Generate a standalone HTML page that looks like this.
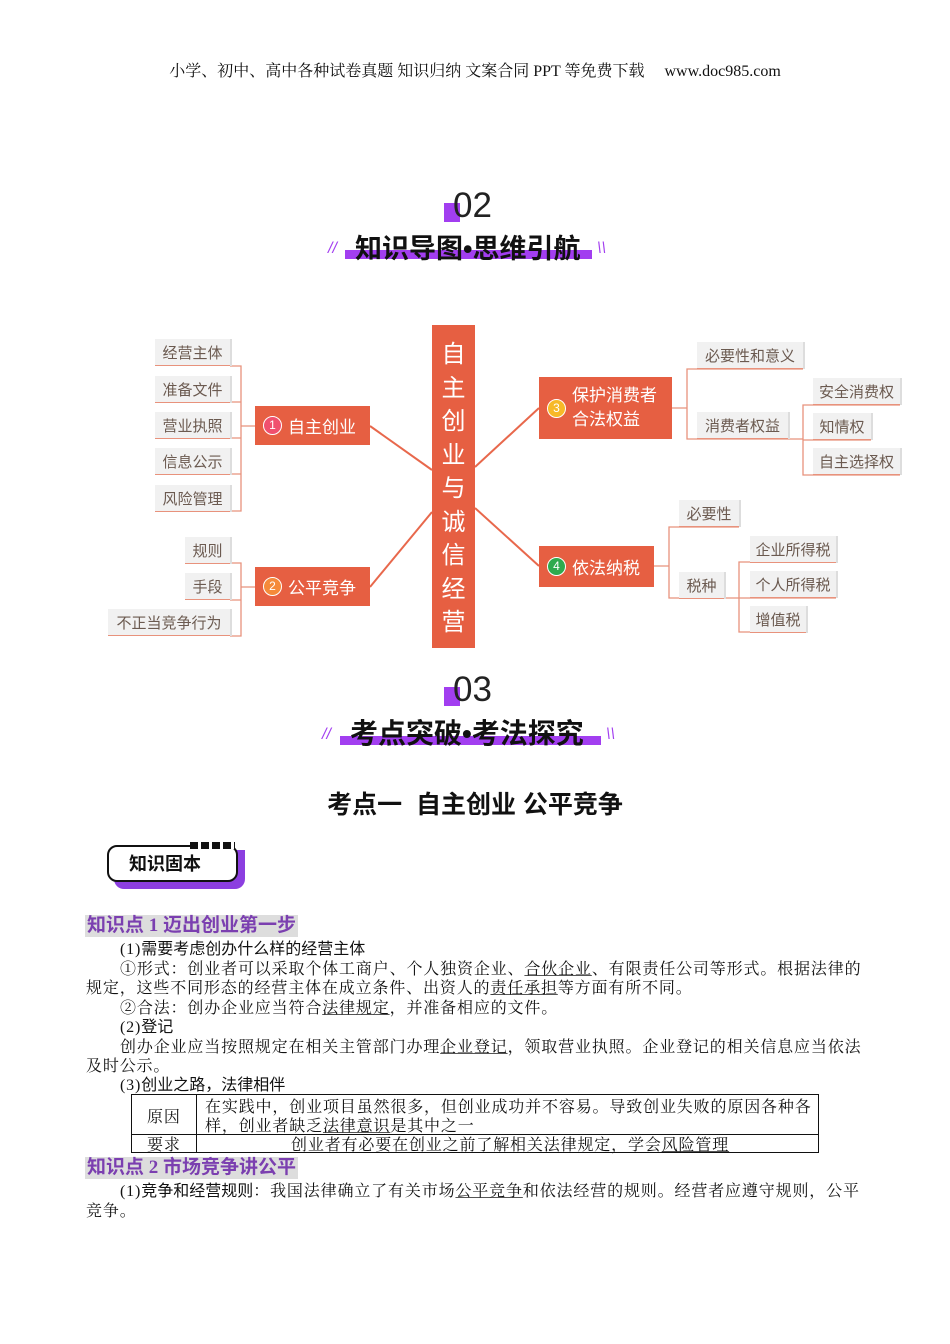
<!DOCTYPE html>
<html><head><meta charset="utf-8">
<style>
body{margin:0;background:#fff;}
#p{position:relative;width:950px;height:1344px;overflow:hidden;font-family:"Liberation Serif","Noto Serif CJK SC",serif;color:#111;}
.a{position:absolute;white-space:nowrap;}
.sans{font-family:"Liberation Sans","Noto Sans CJK SC",sans-serif;}
.leaf{position:absolute;background:#f1f1f1;color:#6b5a50;font-family:"Liberation Sans","Noto Sans CJK SC",sans-serif;font-size:15px;line-height:30px;height:26px;text-align:center;border-bottom:1.5px solid #e8927c;box-sizing:content-box;box-shadow:2px 0 0 #ddd;overflow:hidden;}
.node{position:absolute;background:#e65f42;color:#fff;font-family:"Liberation Sans","Noto Sans CJK SC",sans-serif;font-size:17px;display:flex;align-items:center;}
.num{display:inline-block;width:17px;height:17px;border-radius:50%;border:1px solid #fff;font-size:12px;line-height:17px;text-align:center;margin:0 6px 0 8px;}
.t{position:absolute;white-space:nowrap;font-size:16px;letter-spacing:0.85px;line-height:20px;}
u{text-decoration-color:#555;}
.kp{position:absolute;background:#ddd;color:#7b3fb0;font-weight:bold;font-size:19px;line-height:22px;padding:0 2px;font-family:"Liberation Sans","Noto Sans CJK SC",sans-serif;}
</style></head><body><div id="p">
<div class="a" style="left:0;width:950px;text-align:center;top:58px;font-size:16px;">小学、初中、高中各种试卷真题 知识归纳 文案合同 PPT 等免费下载 &nbsp;&nbsp;&nbsp;&nbsp;www.doc985.com</div>

<!-- heading 02 -->
<div class="a" style="left:444px;top:203px;width:16px;height:19px;background:#a23ef0;"></div>
<div class="a sans" style="left:453px;top:186px;font-size:35px;color:#222;">02</div>
<div class="a" style="left:345px;top:250px;width:247px;height:9px;background:#a23ef0;"></div>
<div class="a sans" style="left:355px;top:227px;font-size:27px;font-weight:bold;color:#111;">知识导图•思维引航</div>
<div class="a sans" style="left:328px;top:240px;font-size:16px;color:#a23ef0;font-style:italic;">//</div>
<div class="a sans" style="left:597px;top:240px;font-size:16px;color:#a23ef0;font-style:italic;">\\</div>

<!-- mind map lines -->
<svg class="a" style="left:0;top:0" width="950" height="700">
<g stroke="#e8684c" stroke-width="2" fill="none">
<line x1="370" y1="426" x2="432" y2="470"/>
<line x1="370" y1="587" x2="432" y2="512"/>
<line x1="475" y1="467" x2="539" y2="408"/>
<line x1="475" y1="508" x2="539" y2="566"/>
</g>
<g stroke="#e8927c" stroke-width="1.3" fill="none">
<path d="M230 366 H241 V511 H230 M230 402 H241 M230 438 H241 M230 474 H241 M241 426 H255"/>
<path d="M230 563 H241 V636 H230 M230 600 H241 M241 587 H255"/>
<path d="M672 408 H687 M803 369 H687 V439 H803"/>
<path d="M900 405 H803 V475 H900 M871 440 H803"/>
<path d="M654 566 H669 M739 527 H669 V598 H739"/>
<path d="M836 562 H739 V632 H806 M836 598 H739"/>
</g>
</svg>
<div class="a sans" style="left:432px;top:325px;width:43px;height:323px;background:#e65f42;color:#fff;font-size:24px;line-height:33.5px;text-align:center;padding-top:13px;box-sizing:border-box;">自<br>主<br>创<br>业<br>与<br>诚<br>信<br>经<br>营</div>
<div class="node" style="left:255px;top:406px;width:115px;height:39px;"><span class="num" style="background:#f0506e;">1</span>自主创业</div>
<div class="node" style="left:255px;top:567px;width:115px;height:39px;"><span class="num" style="background:#f58a3a;">2</span>公平竞争</div>
<div class="node" style="left:539px;top:377px;width:133px;height:62px;line-height:24px;"><span class="num" style="background:#f7b928;">3</span><span>保护消费者<br>合法权益</span></div>
<div class="node" style="left:539px;top:546px;width:115px;height:41px;"><span class="num" style="background:#2eaa4e;">4</span>依法纳税</div>

<div class="leaf" style="left:155px;top:339px;width:75px;">经营主体</div>
<div class="leaf" style="left:155px;top:376px;width:75px;">准备文件</div>
<div class="leaf" style="left:155px;top:412px;width:75px;">营业执照</div>
<div class="leaf" style="left:155px;top:448px;width:75px;">信息公示</div>
<div class="leaf" style="left:155px;top:485px;width:75px;">风险管理</div>
<div class="leaf" style="left:185px;top:537px;width:45px;">规则</div>
<div class="leaf" style="left:185px;top:573px;width:45px;">手段</div>
<div class="leaf" style="left:108px;top:609px;width:122px;">不正当竞争行为</div>
<div class="leaf" style="left:697px;top:342px;width:106px;">必要性和意义</div>
<div class="leaf" style="left:697px;top:412px;width:91px;">消费者权益</div>
<div class="leaf" style="left:813px;top:378px;width:87px;">安全消费权</div>
<div class="leaf" style="left:813px;top:413px;width:58px;">知情权</div>
<div class="leaf" style="left:813px;top:448px;width:87px;">自主选择权</div>
<div class="leaf" style="left:679px;top:500px;width:60px;">必要性</div>
<div class="leaf" style="left:679px;top:572px;width:45px;">税种</div>
<div class="leaf" style="left:750px;top:536px;width:86px;">企业所得税</div>
<div class="leaf" style="left:750px;top:571px;width:86px;">个人所得税</div>
<div class="leaf" style="left:750px;top:606px;width:56px;">增值税</div>

<!-- heading 03 -->
<div class="a" style="left:444px;top:687px;width:16px;height:19px;background:#a23ef0;"></div>
<div class="a sans" style="left:453px;top:670px;font-size:35px;color:#222;">03</div>
<div class="a" style="left:340px;top:736px;width:261px;height:9px;background:#a23ef0;"></div>
<div class="a sans" style="left:350px;top:712px;font-size:28px;font-weight:bold;color:#111;">考点突破•考法探究</div>
<div class="a sans" style="left:322px;top:726px;font-size:16px;color:#a23ef0;font-style:italic;">//</div>
<div class="a sans" style="left:606px;top:726px;font-size:16px;color:#a23ef0;font-style:italic;">\\</div>

<div class="a sans" style="left:0;width:950px;text-align:center;top:785px;font-size:25px;font-weight:bold;color:#111;">考点一&nbsp; 自主创业 公平竞争</div>

<!-- badge -->
<div class="a" style="left:114px;top:850px;width:131px;height:39px;background:#8c3ee0;border-radius:0 0 10px 10px;"></div>
<div class="a sans" style="left:107px;top:845px;width:131px;height:37px;border:2px solid #111;border-radius:10px 10px 10px 10px;background:#fff;box-sizing:border-box;font-size:18px;font-weight:bold;line-height:35px;padding-left:20px;">知识固本</div>
<div class="a" style="left:190px;top:842px;width:45px;height:7px;background:repeating-linear-gradient(90deg,#111 0 8px,#fff 8px 11px);"></div>

<div class="kp" style="left:85px;top:915px;">知识点<span style="font-family:'Liberation Serif';"> 1 </span>迈出创业第一步</div>
<div class="t" style="left:120px;top:940px;">(1)<span class="sans" style="letter-spacing:0">需要考虑创办什么样的经营主体</span></div>
<div class="t" style="left:120px;top:960px;">①形式：创业者可以采取个体工商户、个人独资企业、<u>合伙企业</u>、有限责任公司等形式。根据法律的</div>
<div class="t" style="left:86px;top:979px;">规定，这些不同形态的经营主体在成立条件、出资人的<u>责任承担</u>等方面有所不同。</div>
<div class="t" style="left:120px;top:999px;">②合法：创办企业应当符合<u>法律规定</u>，并准备相应的文件。</div>
<div class="t" style="left:120px;top:1018px;">(2)<span class="sans" style="letter-spacing:0">登记</span></div>
<div class="t" style="left:120px;top:1038px;">创办企业应当按照规定在相关主管部门办理<u>企业登记</u>，领取营业执照。企业登记的相关信息应当依法</div>
<div class="t" style="left:86px;top:1057px;">及时公示。</div>
<div class="t" style="left:120px;top:1076px;">(3)<span class="sans" style="letter-spacing:0">创业之路，法律相伴</span></div>

<div class="a" style="left:131px;top:1094px;width:688px;height:59px;border:1px solid #111;box-sizing:border-box;"></div>
<div class="a" style="left:196px;top:1094px;width:1px;height:59px;background:#111;"></div>
<div class="a" style="left:131px;top:1134px;width:688px;height:1px;background:#111;"></div>
<div class="t" style="left:147px;top:1108px;">原因</div>
<div class="t" style="left:205px;top:1098px;">在实践中，创业项目虽然很多，但创业成功并不容易。导致创业失败的原因各种各</div>
<div class="t" style="left:205px;top:1117px;">样，创业者缺乏<u>法律意识</u>是其中之一</div>
<div class="t" style="left:147px;top:1136px;">要求</div>
<div class="t" style="left:291px;top:1136px;">创业者有必要在创业之前了解相关法律规定，学会<u>风险管理</u></div>

<div class="kp" style="left:85px;top:1157px;">知识点<span style="font-family:'Liberation Serif';"> 2 </span>市场竞争讲公平</div>
<div class="t" style="left:120px;top:1182px;">(1)<span class="sans" style="letter-spacing:0">竞争和经营规则</span>：我国法律确立了有关市场<u>公平竞争</u>和依法经营的规则。经营者应遵守规则，公平</div>
<div class="t" style="left:86px;top:1202px;">竞争。</div>
</div></body></html>
